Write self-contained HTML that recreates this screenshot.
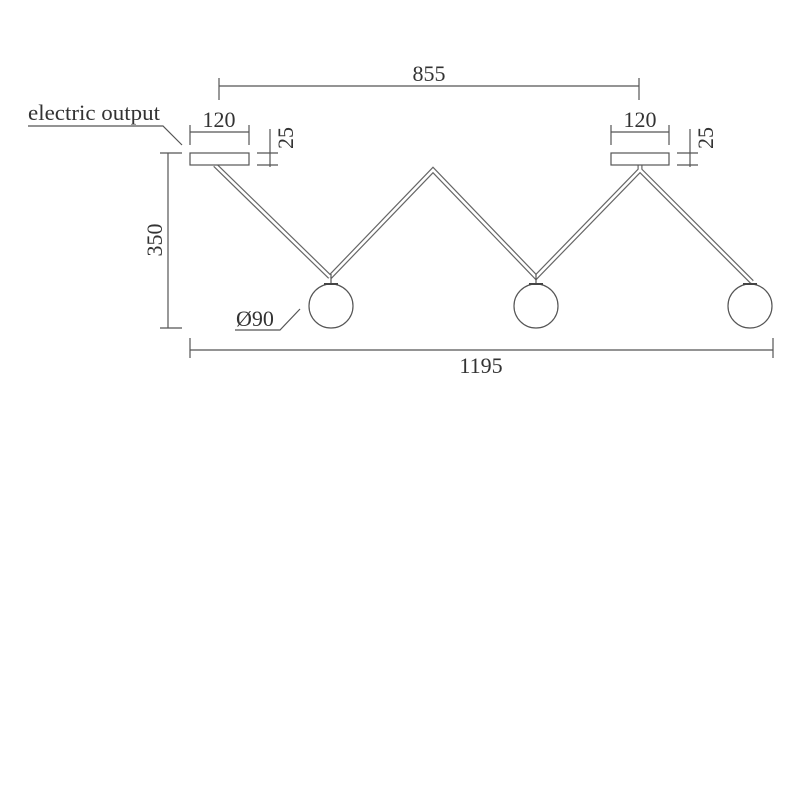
<!DOCTYPE html>
<html><head><style>body{margin:0;background:#fff}svg{display:block}</style></head><body>
<svg width="800" height="800" viewBox="0 0 800 800" xmlns="http://www.w3.org/2000/svg">
<g fill="none" stroke="#555" stroke-width="1.2">
<line x1="219" y1="86" x2="639" y2="86"/><line x1="219" y1="78" x2="219" y2="100"/><line x1="639" y1="78" x2="639" y2="100"/>
<line x1="190" y1="132" x2="249" y2="132"/><line x1="190" y1="125" x2="190" y2="145"/><line x1="249" y1="125" x2="249" y2="145"/>
<line x1="611" y1="132" x2="669" y2="132"/><line x1="611" y1="125" x2="611" y2="145"/><line x1="669" y1="125" x2="669" y2="145"/>
<line x1="270" y1="129" x2="270" y2="167"/><line x1="257" y1="153" x2="278" y2="153"/><line x1="257" y1="165" x2="278" y2="165"/>
<line x1="690" y1="129" x2="690" y2="167"/><line x1="677" y1="153" x2="698" y2="153"/><line x1="677" y1="165" x2="698" y2="165"/>
<line x1="168" y1="153" x2="168" y2="328"/><line x1="160" y1="153" x2="182" y2="153"/><line x1="160" y1="328" x2="182" y2="328"/>
<line x1="190" y1="350" x2="773" y2="350"/><line x1="190" y1="338" x2="190" y2="358"/><line x1="773" y1="338" x2="773" y2="358"/>
<polyline points="28,126 163,126 182,145"/>
<polyline points="235,330 280,330 300,309"/>
</g>
<g fill="none" stroke-linejoin="miter" stroke-linecap="butt">
<g stroke="#666" stroke-width="5">
<polyline points="215,165 330,277"/>
<polyline points="330,277 433,170 536,277 640,170 752,282"/>
<line x1="640" y1="165" x2="640" y2="172"/>
</g>
<g stroke="#fff" stroke-width="2.6">
<polyline points="215,165 330,277"/>
<polyline points="330,277 433,170 536,277 640,170 752,282"/>
<line x1="640" y1="164" x2="640" y2="172"/>
</g>
</g>
<g fill="#fff" stroke="#555" stroke-width="1.2">
<rect x="190" y="153" width="59" height="12"/>
<rect x="611" y="153" width="58" height="12"/>
<line x1="331" y1="274" x2="331" y2="284"/><line x1="536" y1="274" x2="536" y2="284"/>
<circle cx="331" cy="306" r="22"/>
<circle cx="536" cy="306" r="22"/>
<circle cx="750" cy="306" r="22"/>
</g>
<g stroke="#444" stroke-width="2">
<line x1="324" y1="284" x2="338" y2="284"/><line x1="529" y1="284" x2="543" y2="284"/><line x1="743" y1="284" x2="757" y2="284"/>
</g>
<g font-family="Liberation Serif, serif" font-size="22" fill="#333">
<text x="429" y="81" text-anchor="middle">855</text>
<text x="219" y="127" text-anchor="middle">120</text>
<text x="640" y="127" text-anchor="middle">120</text>
<text x="28" y="120" textLength="132" lengthAdjust="spacingAndGlyphs">electric output</text>
<text x="236" y="326">Ø90</text>
<text x="481" y="373" text-anchor="middle">1195</text>
<text transform="translate(293,138) rotate(-90)" text-anchor="middle">25</text>
<text transform="translate(713,138) rotate(-90)" text-anchor="middle">25</text>
<text transform="translate(162,240) rotate(-90)" text-anchor="middle">350</text>
</g>
</svg>
</body></html>
